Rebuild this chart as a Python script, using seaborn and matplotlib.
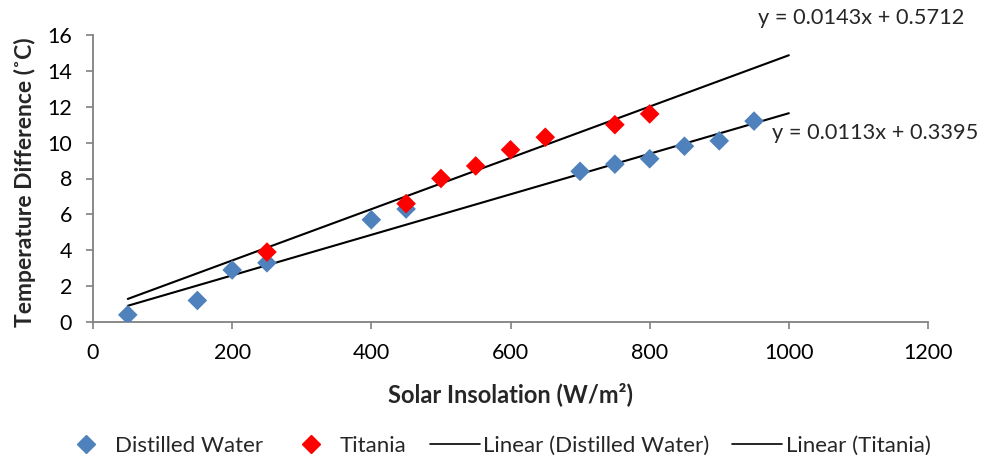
import numpy as np
import pandas as pd
import matplotlib
matplotlib.use("Agg")
import matplotlib.pyplot as plt
import seaborn as sns
from matplotlib.lines import Line2D

# Data
water_x = [50, 150, 200, 250, 400, 450, 700, 750, 800, 850, 900, 950]
water_y = [0.4, 1.2, 2.9, 3.3, 5.7, 6.3, 8.4, 8.8, 9.1, 9.8, 10.1, 11.2]
titania_x = [250, 450, 500, 550, 600, 650, 750, 800]
titania_y = [3.9, 6.6, 8.0, 8.7, 9.6, 10.3, 11.0, 11.6]
series_names = ["Distilled Water", "Titania"]
fit_slopes = [0.0113, 0.0143]
fit_intercepts = [0.3395, 0.5712]
fit_range = [50, 1000]
eq_labels = ["y = 0.0113x + 0.3395", "y = 0.0143x + 0.5712"]

sns.set_style("white")
plt.rcParams["font.family"] = ["Lato", "DejaVu Sans"]

df = pd.DataFrame({
    "x": water_x + titania_x,
    "y": water_y + titania_y,
    "series": [series_names[0]] * len(water_x) + [series_names[1]] * len(titania_x),
})

fig = plt.figure(figsize=(9.82, 4.59), dpi=100)
ax = fig.add_axes([93 / 982, 1 - 322 / 459, (928 - 93) / 982, (322 - 35) / 459])

colors = {"Distilled Water": "#4F81BD", "Titania": "#FF0000"}
sns.scatterplot(data=df, x="x", y="y", hue="series", palette=colors, marker="D",
                s=100, edgecolor=None, linewidth=0, ax=ax, legend=False, zorder=3)

xs = np.array(fit_range, dtype=float)
for m, b in zip(fit_slopes, fit_intercepts):
    ax.plot(xs, m * xs + b, color="black", lw=1.5, zorder=2)

ax.set_xlim(0, 1200)
ax.set_ylim(0, 16)
ax.set_xticks(np.arange(0, 1201, 200))
ax.set_yticks(np.arange(0, 17, 2))
ax.tick_params(axis="both", labelsize=15.5, colors="black", length=5, width=1.2,
               direction="out", bottom=True, left=True, pad=10)
for side in ["top", "right"]:
    ax.spines[side].set_visible(False)
for side in ["left", "bottom"]:
    ax.spines[side].set_color("#808080")
    ax.spines[side].set_linewidth(1.3)
ax.tick_params(axis="both", color="#808080")

ax.set_xlabel("Solar Insolation (W/m²)", fontsize=17, fontweight="bold", va="center")
ax.set_ylabel("Temperature Difference (˚C)", fontsize=16.5, fontweight="bold", va="center")
ax.xaxis.set_label_coords(0.5, (322 - 394) / 287)
ax.yaxis.set_label_coords((25 - 93) / 835, (322 - 182) / 287)

ax.text(955, 16.95, eq_labels[1], fontsize=15.7, ha="left", va="center", clip_on=False)
ax.text(976, 10.55, eq_labels[0], fontsize=15.7, ha="left", va="center", clip_on=False)

handles = [
    Line2D([], [], marker="D", color=colors["Distilled Water"], ls="none", ms=9.5),
    Line2D([], [], marker="D", color=colors["Titania"], ls="none", ms=9.5),
    Line2D([], [], color="black", lw=1.2),
    Line2D([], [], color="black", lw=1.2),
]
labels = series_names + ["Linear (Distilled Water)", "Linear (Titania)"]
fig.legend(handles, labels, loc="center", bbox_to_anchor=(496 / 982, 1 - 446 / 459), ncol=4,
           frameon=False, fontsize=16, handlelength=2.25, handletextpad=0.15,
           columnspacing=1.05, borderpad=0, borderaxespad=0)

fig.savefig("out.png", dpi=100)
